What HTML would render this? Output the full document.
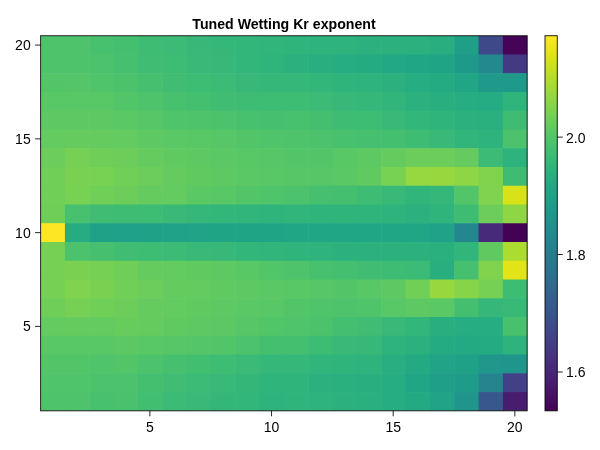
<!DOCTYPE html>
<html><head><meta charset="utf-8"><title>Tuned Wetting Kr exponent</title>
<style>
html,body{margin:0;padding:0;background:#fff;}
svg{display:block}
text{font-family:"Liberation Sans",Arial,Helvetica,sans-serif;font-size:14px;fill:#000}
.t{font-weight:bold}
</style></head><body>
<svg width="600" height="450" viewBox="0 0 600 450">
<rect width="600" height="450" fill="#fff"/>

<defs><clipPath id="ax"><rect x="40.60" y="35.70" width="486.60" height="375.10"/></clipPath></defs>
<g clip-path="url(#ax)"><g>
<rect x="40.60" y="35.70" width="24.93" height="19.36" fill="#4ec36b"/>
<rect x="64.93" y="35.70" width="24.93" height="19.36" fill="#4ec36b"/>
<rect x="89.26" y="35.70" width="24.93" height="19.36" fill="#48c16e"/>
<rect x="113.59" y="35.70" width="24.93" height="19.36" fill="#44bf70"/>
<rect x="137.92" y="35.70" width="24.93" height="19.36" fill="#3fbc73"/>
<rect x="162.25" y="35.70" width="24.93" height="19.36" fill="#3bbb75"/>
<rect x="186.58" y="35.70" width="24.93" height="19.36" fill="#37b878"/>
<rect x="210.91" y="35.70" width="24.93" height="19.36" fill="#35b779"/>
<rect x="235.24" y="35.70" width="24.93" height="19.36" fill="#32b67a"/>
<rect x="259.57" y="35.70" width="24.93" height="19.36" fill="#31b57b"/>
<rect x="283.90" y="35.70" width="24.93" height="19.36" fill="#2fb47c"/>
<rect x="308.23" y="35.70" width="24.93" height="19.36" fill="#2eb37c"/>
<rect x="332.56" y="35.70" width="24.93" height="19.36" fill="#2eb37c"/>
<rect x="356.89" y="35.70" width="24.93" height="19.36" fill="#2cb17e"/>
<rect x="381.22" y="35.70" width="24.93" height="19.36" fill="#2cb17e"/>
<rect x="405.55" y="35.70" width="24.93" height="19.36" fill="#2cb17e"/>
<rect x="429.88" y="35.70" width="24.93" height="19.36" fill="#29af7f"/>
<rect x="454.21" y="35.70" width="24.93" height="19.36" fill="#1f9f88"/>
<rect x="478.54" y="35.70" width="24.93" height="19.36" fill="#3e4989"/>
<rect x="502.87" y="35.70" width="24.93" height="19.36" fill="#450457"/>
<rect x="40.60" y="54.46" width="24.93" height="19.36" fill="#4ec36b"/>
<rect x="64.93" y="54.46" width="24.93" height="19.36" fill="#4ec36b"/>
<rect x="89.26" y="54.46" width="24.93" height="19.36" fill="#4cc26c"/>
<rect x="113.59" y="54.46" width="24.93" height="19.36" fill="#46c06f"/>
<rect x="137.92" y="54.46" width="24.93" height="19.36" fill="#40bd72"/>
<rect x="162.25" y="54.46" width="24.93" height="19.36" fill="#3dbc74"/>
<rect x="186.58" y="54.46" width="24.93" height="19.36" fill="#38b977"/>
<rect x="210.91" y="54.46" width="24.93" height="19.36" fill="#37b878"/>
<rect x="235.24" y="54.46" width="24.93" height="19.36" fill="#32b67a"/>
<rect x="259.57" y="54.46" width="24.93" height="19.36" fill="#2fb47c"/>
<rect x="283.90" y="54.46" width="24.93" height="19.36" fill="#2cb17e"/>
<rect x="308.23" y="54.46" width="24.93" height="19.36" fill="#29af7f"/>
<rect x="332.56" y="54.46" width="24.93" height="19.36" fill="#26ad81"/>
<rect x="356.89" y="54.46" width="24.93" height="19.36" fill="#25ab82"/>
<rect x="381.22" y="54.46" width="24.93" height="19.36" fill="#22a884"/>
<rect x="405.55" y="54.46" width="24.93" height="19.36" fill="#21a685"/>
<rect x="429.88" y="54.46" width="24.93" height="19.36" fill="#20a486"/>
<rect x="454.21" y="54.46" width="24.93" height="19.36" fill="#1f9a8a"/>
<rect x="478.54" y="54.46" width="24.93" height="19.36" fill="#23898e"/>
<rect x="502.87" y="54.46" width="24.93" height="19.36" fill="#443a83"/>
<rect x="40.60" y="73.21" width="24.93" height="19.36" fill="#52c569"/>
<rect x="64.93" y="73.21" width="24.93" height="19.36" fill="#54c568"/>
<rect x="89.26" y="73.21" width="24.93" height="19.36" fill="#50c46a"/>
<rect x="113.59" y="73.21" width="24.93" height="19.36" fill="#4cc26c"/>
<rect x="137.92" y="73.21" width="24.93" height="19.36" fill="#46c06f"/>
<rect x="162.25" y="73.21" width="24.93" height="19.36" fill="#40bd72"/>
<rect x="186.58" y="73.21" width="24.93" height="19.36" fill="#3dbc74"/>
<rect x="210.91" y="73.21" width="24.93" height="19.36" fill="#3bbb75"/>
<rect x="235.24" y="73.21" width="24.93" height="19.36" fill="#37b878"/>
<rect x="259.57" y="73.21" width="24.93" height="19.36" fill="#35b779"/>
<rect x="283.90" y="73.21" width="24.93" height="19.36" fill="#35b779"/>
<rect x="308.23" y="73.21" width="24.93" height="19.36" fill="#32b67a"/>
<rect x="332.56" y="73.21" width="24.93" height="19.36" fill="#2fb47c"/>
<rect x="356.89" y="73.21" width="24.93" height="19.36" fill="#2eb37c"/>
<rect x="381.22" y="73.21" width="24.93" height="19.36" fill="#2cb17e"/>
<rect x="405.55" y="73.21" width="24.93" height="19.36" fill="#26ad81"/>
<rect x="429.88" y="73.21" width="24.93" height="19.36" fill="#25ab82"/>
<rect x="454.21" y="73.21" width="24.93" height="19.36" fill="#21a685"/>
<rect x="478.54" y="73.21" width="24.93" height="19.36" fill="#1f9a8a"/>
<rect x="502.87" y="73.21" width="24.93" height="19.36" fill="#1f9a8a"/>
<rect x="40.60" y="91.97" width="24.93" height="19.36" fill="#58c765"/>
<rect x="64.93" y="91.97" width="24.93" height="19.36" fill="#58c765"/>
<rect x="89.26" y="91.97" width="24.93" height="19.36" fill="#58c765"/>
<rect x="113.59" y="91.97" width="24.93" height="19.36" fill="#52c569"/>
<rect x="137.92" y="91.97" width="24.93" height="19.36" fill="#4ec36b"/>
<rect x="162.25" y="91.97" width="24.93" height="19.36" fill="#48c16e"/>
<rect x="186.58" y="91.97" width="24.93" height="19.36" fill="#44bf70"/>
<rect x="210.91" y="91.97" width="24.93" height="19.36" fill="#40bd72"/>
<rect x="235.24" y="91.97" width="24.93" height="19.36" fill="#3fbc73"/>
<rect x="259.57" y="91.97" width="24.93" height="19.36" fill="#3dbc74"/>
<rect x="283.90" y="91.97" width="24.93" height="19.36" fill="#3dbc74"/>
<rect x="308.23" y="91.97" width="24.93" height="19.36" fill="#3bbb75"/>
<rect x="332.56" y="91.97" width="24.93" height="19.36" fill="#37b878"/>
<rect x="356.89" y="91.97" width="24.93" height="19.36" fill="#35b779"/>
<rect x="381.22" y="91.97" width="24.93" height="19.36" fill="#31b57b"/>
<rect x="405.55" y="91.97" width="24.93" height="19.36" fill="#2cb17e"/>
<rect x="429.88" y="91.97" width="24.93" height="19.36" fill="#29af7f"/>
<rect x="454.21" y="91.97" width="24.93" height="19.36" fill="#26ad81"/>
<rect x="478.54" y="91.97" width="24.93" height="19.36" fill="#25ac82"/>
<rect x="502.87" y="91.97" width="24.93" height="19.36" fill="#2fb47c"/>
<rect x="40.60" y="110.72" width="24.93" height="19.36" fill="#5ec962"/>
<rect x="64.93" y="110.72" width="24.93" height="19.36" fill="#5ec962"/>
<rect x="89.26" y="110.72" width="24.93" height="19.36" fill="#5ec962"/>
<rect x="113.59" y="110.72" width="24.93" height="19.36" fill="#5ac864"/>
<rect x="137.92" y="110.72" width="24.93" height="19.36" fill="#56c667"/>
<rect x="162.25" y="110.72" width="24.93" height="19.36" fill="#50c46a"/>
<rect x="186.58" y="110.72" width="24.93" height="19.36" fill="#4ec36b"/>
<rect x="210.91" y="110.72" width="24.93" height="19.36" fill="#4cc26c"/>
<rect x="235.24" y="110.72" width="24.93" height="19.36" fill="#48c16e"/>
<rect x="259.57" y="110.72" width="24.93" height="19.36" fill="#46c06f"/>
<rect x="283.90" y="110.72" width="24.93" height="19.36" fill="#48c16e"/>
<rect x="308.23" y="110.72" width="24.93" height="19.36" fill="#44bf70"/>
<rect x="332.56" y="110.72" width="24.93" height="19.36" fill="#3fbc73"/>
<rect x="356.89" y="110.72" width="24.93" height="19.36" fill="#3dbc74"/>
<rect x="381.22" y="110.72" width="24.93" height="19.36" fill="#38b977"/>
<rect x="405.55" y="110.72" width="24.93" height="19.36" fill="#32b67a"/>
<rect x="429.88" y="110.72" width="24.93" height="19.36" fill="#2fb47c"/>
<rect x="454.21" y="110.72" width="24.93" height="19.36" fill="#2cb17e"/>
<rect x="478.54" y="110.72" width="24.93" height="19.36" fill="#2ab07f"/>
<rect x="502.87" y="110.72" width="24.93" height="19.36" fill="#3fbc73"/>
<rect x="40.60" y="129.48" width="24.93" height="19.36" fill="#63cb5f"/>
<rect x="64.93" y="129.48" width="24.93" height="19.36" fill="#65cb5e"/>
<rect x="89.26" y="129.48" width="24.93" height="19.36" fill="#65cb5e"/>
<rect x="113.59" y="129.48" width="24.93" height="19.36" fill="#63cb5f"/>
<rect x="137.92" y="129.48" width="24.93" height="19.36" fill="#5ec962"/>
<rect x="162.25" y="129.48" width="24.93" height="19.36" fill="#5ac864"/>
<rect x="186.58" y="129.48" width="24.93" height="19.36" fill="#58c765"/>
<rect x="210.91" y="129.48" width="24.93" height="19.36" fill="#56c667"/>
<rect x="235.24" y="129.48" width="24.93" height="19.36" fill="#52c569"/>
<rect x="259.57" y="129.48" width="24.93" height="19.36" fill="#50c46a"/>
<rect x="283.90" y="129.48" width="24.93" height="19.36" fill="#4ec36b"/>
<rect x="308.23" y="129.48" width="24.93" height="19.36" fill="#4cc26c"/>
<rect x="332.56" y="129.48" width="24.93" height="19.36" fill="#48c16e"/>
<rect x="356.89" y="129.48" width="24.93" height="19.36" fill="#46c06f"/>
<rect x="381.22" y="129.48" width="24.93" height="19.36" fill="#44bf70"/>
<rect x="405.55" y="129.48" width="24.93" height="19.36" fill="#3fbc73"/>
<rect x="429.88" y="129.48" width="24.93" height="19.36" fill="#38b977"/>
<rect x="454.21" y="129.48" width="24.93" height="19.36" fill="#31b57b"/>
<rect x="478.54" y="129.48" width="24.93" height="19.36" fill="#2eb37c"/>
<rect x="502.87" y="129.48" width="24.93" height="19.36" fill="#4cc26c"/>
<rect x="40.60" y="148.23" width="24.93" height="19.36" fill="#6ccd5a"/>
<rect x="64.93" y="148.23" width="24.93" height="19.36" fill="#75d054"/>
<rect x="89.26" y="148.23" width="24.93" height="19.36" fill="#6ece58"/>
<rect x="113.59" y="148.23" width="24.93" height="19.36" fill="#6ccd5a"/>
<rect x="137.92" y="148.23" width="24.93" height="19.36" fill="#65cb5e"/>
<rect x="162.25" y="148.23" width="24.93" height="19.36" fill="#60ca60"/>
<rect x="186.58" y="148.23" width="24.93" height="19.36" fill="#5ec962"/>
<rect x="210.91" y="148.23" width="24.93" height="19.36" fill="#5ac864"/>
<rect x="235.24" y="148.23" width="24.93" height="19.36" fill="#58c765"/>
<rect x="259.57" y="148.23" width="24.93" height="19.36" fill="#56c667"/>
<rect x="283.90" y="148.23" width="24.93" height="19.36" fill="#52c569"/>
<rect x="308.23" y="148.23" width="24.93" height="19.36" fill="#52c569"/>
<rect x="332.56" y="148.23" width="24.93" height="19.36" fill="#58c765"/>
<rect x="356.89" y="148.23" width="24.93" height="19.36" fill="#5ec962"/>
<rect x="381.22" y="148.23" width="24.93" height="19.36" fill="#65cb5e"/>
<rect x="405.55" y="148.23" width="24.93" height="19.36" fill="#6ccd5a"/>
<rect x="429.88" y="148.23" width="24.93" height="19.36" fill="#6ccd5a"/>
<rect x="454.21" y="148.23" width="24.93" height="19.36" fill="#65cb5e"/>
<rect x="478.54" y="148.23" width="24.93" height="19.36" fill="#3bbb75"/>
<rect x="502.87" y="148.23" width="24.93" height="19.36" fill="#2eb37c"/>
<rect x="40.60" y="166.99" width="24.93" height="19.36" fill="#70cf57"/>
<rect x="64.93" y="166.99" width="24.93" height="19.36" fill="#7ad151"/>
<rect x="89.26" y="166.99" width="24.93" height="19.36" fill="#77d153"/>
<rect x="113.59" y="166.99" width="24.93" height="19.36" fill="#70cf57"/>
<rect x="137.92" y="166.99" width="24.93" height="19.36" fill="#6ccd5a"/>
<rect x="162.25" y="166.99" width="24.93" height="19.36" fill="#65cb5e"/>
<rect x="186.58" y="166.99" width="24.93" height="19.36" fill="#60ca60"/>
<rect x="210.91" y="166.99" width="24.93" height="19.36" fill="#5ec962"/>
<rect x="235.24" y="166.99" width="24.93" height="19.36" fill="#5ac864"/>
<rect x="259.57" y="166.99" width="24.93" height="19.36" fill="#58c765"/>
<rect x="283.90" y="166.99" width="24.93" height="19.36" fill="#56c667"/>
<rect x="308.23" y="166.99" width="24.93" height="19.36" fill="#56c667"/>
<rect x="332.56" y="166.99" width="24.93" height="19.36" fill="#5ac864"/>
<rect x="356.89" y="166.99" width="24.93" height="19.36" fill="#60ca60"/>
<rect x="381.22" y="166.99" width="24.93" height="19.36" fill="#77d153"/>
<rect x="405.55" y="166.99" width="24.93" height="19.36" fill="#95d840"/>
<rect x="429.88" y="166.99" width="24.93" height="19.36" fill="#98d83e"/>
<rect x="454.21" y="166.99" width="24.93" height="19.36" fill="#8ed645"/>
<rect x="478.54" y="166.99" width="24.93" height="19.36" fill="#81d34d"/>
<rect x="502.87" y="166.99" width="24.93" height="19.36" fill="#3fbc73"/>
<rect x="40.60" y="185.74" width="24.93" height="19.36" fill="#70cf57"/>
<rect x="64.93" y="185.74" width="24.93" height="19.36" fill="#77d153"/>
<rect x="89.26" y="185.74" width="24.93" height="19.36" fill="#70cf57"/>
<rect x="113.59" y="185.74" width="24.93" height="19.36" fill="#6ccd5a"/>
<rect x="137.92" y="185.74" width="24.93" height="19.36" fill="#65cb5e"/>
<rect x="162.25" y="185.74" width="24.93" height="19.36" fill="#63cb5f"/>
<rect x="186.58" y="185.74" width="24.93" height="19.36" fill="#5ac864"/>
<rect x="210.91" y="185.74" width="24.93" height="19.36" fill="#58c765"/>
<rect x="235.24" y="185.74" width="24.93" height="19.36" fill="#52c569"/>
<rect x="259.57" y="185.74" width="24.93" height="19.36" fill="#50c46a"/>
<rect x="283.90" y="185.74" width="24.93" height="19.36" fill="#4cc26c"/>
<rect x="308.23" y="185.74" width="24.93" height="19.36" fill="#46c06f"/>
<rect x="332.56" y="185.74" width="24.93" height="19.36" fill="#44bf70"/>
<rect x="356.89" y="185.74" width="24.93" height="19.36" fill="#3fbc73"/>
<rect x="381.22" y="185.74" width="24.93" height="19.36" fill="#38b977"/>
<rect x="405.55" y="185.74" width="24.93" height="19.36" fill="#31b57b"/>
<rect x="429.88" y="185.74" width="24.93" height="19.36" fill="#35b779"/>
<rect x="454.21" y="185.74" width="24.93" height="19.36" fill="#52c569"/>
<rect x="478.54" y="185.74" width="24.93" height="19.36" fill="#7fd34e"/>
<rect x="502.87" y="185.74" width="24.93" height="19.36" fill="#d8e219"/>
<rect x="40.60" y="204.50" width="24.93" height="19.36" fill="#6ece58"/>
<rect x="64.93" y="204.50" width="24.93" height="19.36" fill="#48c16e"/>
<rect x="89.26" y="204.50" width="24.93" height="19.36" fill="#40bd72"/>
<rect x="113.59" y="204.50" width="24.93" height="19.36" fill="#3fbc73"/>
<rect x="137.92" y="204.50" width="24.93" height="19.36" fill="#3dbc74"/>
<rect x="162.25" y="204.50" width="24.93" height="19.36" fill="#38b977"/>
<rect x="186.58" y="204.50" width="24.93" height="19.36" fill="#35b779"/>
<rect x="210.91" y="204.50" width="24.93" height="19.36" fill="#32b67a"/>
<rect x="235.24" y="204.50" width="24.93" height="19.36" fill="#31b57b"/>
<rect x="259.57" y="204.50" width="24.93" height="19.36" fill="#2fb47c"/>
<rect x="283.90" y="204.50" width="24.93" height="19.36" fill="#31b57b"/>
<rect x="308.23" y="204.50" width="24.93" height="19.36" fill="#2fb47c"/>
<rect x="332.56" y="204.50" width="24.93" height="19.36" fill="#2fb47c"/>
<rect x="356.89" y="204.50" width="24.93" height="19.36" fill="#2fb47c"/>
<rect x="381.22" y="204.50" width="24.93" height="19.36" fill="#2eb37c"/>
<rect x="405.55" y="204.50" width="24.93" height="19.36" fill="#2cb17e"/>
<rect x="429.88" y="204.50" width="24.93" height="19.36" fill="#2fb47c"/>
<rect x="454.21" y="204.50" width="24.93" height="19.36" fill="#3fbc73"/>
<rect x="478.54" y="204.50" width="24.93" height="19.36" fill="#6ccd5a"/>
<rect x="502.87" y="204.50" width="24.93" height="19.36" fill="#8ed645"/>
<rect x="40.60" y="223.25" width="24.93" height="19.36" fill="#fde725"/>
<rect x="64.93" y="223.25" width="24.93" height="19.36" fill="#25ac82"/>
<rect x="89.26" y="223.25" width="24.93" height="19.36" fill="#1fa188"/>
<rect x="113.59" y="223.25" width="24.93" height="19.36" fill="#1fa088"/>
<rect x="137.92" y="223.25" width="24.93" height="19.36" fill="#1fa188"/>
<rect x="162.25" y="223.25" width="24.93" height="19.36" fill="#1fa287"/>
<rect x="186.58" y="223.25" width="24.93" height="19.36" fill="#20a386"/>
<rect x="210.91" y="223.25" width="24.93" height="19.36" fill="#20a486"/>
<rect x="235.24" y="223.25" width="24.93" height="19.36" fill="#20a486"/>
<rect x="259.57" y="223.25" width="24.93" height="19.36" fill="#20a486"/>
<rect x="283.90" y="223.25" width="24.93" height="19.36" fill="#21a685"/>
<rect x="308.23" y="223.25" width="24.93" height="19.36" fill="#21a685"/>
<rect x="332.56" y="223.25" width="24.93" height="19.36" fill="#21a685"/>
<rect x="356.89" y="223.25" width="24.93" height="19.36" fill="#21a685"/>
<rect x="381.22" y="223.25" width="24.93" height="19.36" fill="#21a685"/>
<rect x="405.55" y="223.25" width="24.93" height="19.36" fill="#21a685"/>
<rect x="429.88" y="223.25" width="24.93" height="19.36" fill="#1fa287"/>
<rect x="454.21" y="223.25" width="24.93" height="19.36" fill="#24868e"/>
<rect x="478.54" y="223.25" width="24.93" height="19.36" fill="#472a7a"/>
<rect x="502.87" y="223.25" width="24.93" height="19.36" fill="#440256"/>
<rect x="40.60" y="242.01" width="24.93" height="19.36" fill="#75d054"/>
<rect x="64.93" y="242.01" width="24.93" height="19.36" fill="#4cc26c"/>
<rect x="89.26" y="242.01" width="24.93" height="19.36" fill="#46c06f"/>
<rect x="113.59" y="242.01" width="24.93" height="19.36" fill="#40bd72"/>
<rect x="137.92" y="242.01" width="24.93" height="19.36" fill="#3dbc74"/>
<rect x="162.25" y="242.01" width="24.93" height="19.36" fill="#3bbb75"/>
<rect x="186.58" y="242.01" width="24.93" height="19.36" fill="#38b977"/>
<rect x="210.91" y="242.01" width="24.93" height="19.36" fill="#37b878"/>
<rect x="235.24" y="242.01" width="24.93" height="19.36" fill="#32b67a"/>
<rect x="259.57" y="242.01" width="24.93" height="19.36" fill="#31b57b"/>
<rect x="283.90" y="242.01" width="24.93" height="19.36" fill="#2fb47c"/>
<rect x="308.23" y="242.01" width="24.93" height="19.36" fill="#2eb37c"/>
<rect x="332.56" y="242.01" width="24.93" height="19.36" fill="#2cb17e"/>
<rect x="356.89" y="242.01" width="24.93" height="19.36" fill="#2cb17e"/>
<rect x="381.22" y="242.01" width="24.93" height="19.36" fill="#2cb17e"/>
<rect x="405.55" y="242.01" width="24.93" height="19.36" fill="#2cb17e"/>
<rect x="429.88" y="242.01" width="24.93" height="19.36" fill="#2ab07f"/>
<rect x="454.21" y="242.01" width="24.93" height="19.36" fill="#31b57b"/>
<rect x="478.54" y="242.01" width="24.93" height="19.36" fill="#60ca60"/>
<rect x="502.87" y="242.01" width="24.93" height="19.36" fill="#addc30"/>
<rect x="40.60" y="260.76" width="24.93" height="19.36" fill="#75d054"/>
<rect x="64.93" y="260.76" width="24.93" height="19.36" fill="#7ad151"/>
<rect x="89.26" y="260.76" width="24.93" height="19.36" fill="#75d054"/>
<rect x="113.59" y="260.76" width="24.93" height="19.36" fill="#6ece58"/>
<rect x="137.92" y="260.76" width="24.93" height="19.36" fill="#65cb5e"/>
<rect x="162.25" y="260.76" width="24.93" height="19.36" fill="#63cb5f"/>
<rect x="186.58" y="260.76" width="24.93" height="19.36" fill="#60ca60"/>
<rect x="210.91" y="260.76" width="24.93" height="19.36" fill="#5ec962"/>
<rect x="235.24" y="260.76" width="24.93" height="19.36" fill="#58c765"/>
<rect x="259.57" y="260.76" width="24.93" height="19.36" fill="#52c569"/>
<rect x="283.90" y="260.76" width="24.93" height="19.36" fill="#4ec36b"/>
<rect x="308.23" y="260.76" width="24.93" height="19.36" fill="#48c16e"/>
<rect x="332.56" y="260.76" width="24.93" height="19.36" fill="#44bf70"/>
<rect x="356.89" y="260.76" width="24.93" height="19.36" fill="#40bd72"/>
<rect x="381.22" y="260.76" width="24.93" height="19.36" fill="#3fbc73"/>
<rect x="405.55" y="260.76" width="24.93" height="19.36" fill="#3bbb75"/>
<rect x="429.88" y="260.76" width="24.93" height="19.36" fill="#29af7f"/>
<rect x="454.21" y="260.76" width="24.93" height="19.36" fill="#46c06f"/>
<rect x="478.54" y="260.76" width="24.93" height="19.36" fill="#81d34d"/>
<rect x="502.87" y="260.76" width="24.93" height="19.36" fill="#e2e418"/>
<rect x="40.60" y="279.52" width="24.93" height="19.36" fill="#75d054"/>
<rect x="64.93" y="279.52" width="24.93" height="19.36" fill="#7fd34e"/>
<rect x="89.26" y="279.52" width="24.93" height="19.36" fill="#7ad151"/>
<rect x="113.59" y="279.52" width="24.93" height="19.36" fill="#70cf57"/>
<rect x="137.92" y="279.52" width="24.93" height="19.36" fill="#6ccd5a"/>
<rect x="162.25" y="279.52" width="24.93" height="19.36" fill="#65cb5e"/>
<rect x="186.58" y="279.52" width="24.93" height="19.36" fill="#63cb5f"/>
<rect x="210.91" y="279.52" width="24.93" height="19.36" fill="#60ca60"/>
<rect x="235.24" y="279.52" width="24.93" height="19.36" fill="#5ec962"/>
<rect x="259.57" y="279.52" width="24.93" height="19.36" fill="#5ac864"/>
<rect x="283.90" y="279.52" width="24.93" height="19.36" fill="#58c765"/>
<rect x="308.23" y="279.52" width="24.93" height="19.36" fill="#56c667"/>
<rect x="332.56" y="279.52" width="24.93" height="19.36" fill="#52c569"/>
<rect x="356.89" y="279.52" width="24.93" height="19.36" fill="#58c765"/>
<rect x="381.22" y="279.52" width="24.93" height="19.36" fill="#5ec962"/>
<rect x="405.55" y="279.52" width="24.93" height="19.36" fill="#70cf57"/>
<rect x="429.88" y="279.52" width="24.93" height="19.36" fill="#98d83e"/>
<rect x="454.21" y="279.52" width="24.93" height="19.36" fill="#86d549"/>
<rect x="478.54" y="279.52" width="24.93" height="19.36" fill="#75d054"/>
<rect x="502.87" y="279.52" width="24.93" height="19.36" fill="#3dbc74"/>
<rect x="40.60" y="298.27" width="24.93" height="19.36" fill="#6ece58"/>
<rect x="64.93" y="298.27" width="24.93" height="19.36" fill="#75d054"/>
<rect x="89.26" y="298.27" width="24.93" height="19.36" fill="#70cf57"/>
<rect x="113.59" y="298.27" width="24.93" height="19.36" fill="#6ccd5a"/>
<rect x="137.92" y="298.27" width="24.93" height="19.36" fill="#65cb5e"/>
<rect x="162.25" y="298.27" width="24.93" height="19.36" fill="#63cb5f"/>
<rect x="186.58" y="298.27" width="24.93" height="19.36" fill="#60ca60"/>
<rect x="210.91" y="298.27" width="24.93" height="19.36" fill="#5ec962"/>
<rect x="235.24" y="298.27" width="24.93" height="19.36" fill="#5ac864"/>
<rect x="259.57" y="298.27" width="24.93" height="19.36" fill="#58c765"/>
<rect x="283.90" y="298.27" width="24.93" height="19.36" fill="#52c569"/>
<rect x="308.23" y="298.27" width="24.93" height="19.36" fill="#50c46a"/>
<rect x="332.56" y="298.27" width="24.93" height="19.36" fill="#4ec36b"/>
<rect x="356.89" y="298.27" width="24.93" height="19.36" fill="#50c46a"/>
<rect x="381.22" y="298.27" width="24.93" height="19.36" fill="#58c765"/>
<rect x="405.55" y="298.27" width="24.93" height="19.36" fill="#5ec962"/>
<rect x="429.88" y="298.27" width="24.93" height="19.36" fill="#5ac864"/>
<rect x="454.21" y="298.27" width="24.93" height="19.36" fill="#44bf70"/>
<rect x="478.54" y="298.27" width="24.93" height="19.36" fill="#35b779"/>
<rect x="502.87" y="298.27" width="24.93" height="19.36" fill="#38b977"/>
<rect x="40.60" y="317.03" width="24.93" height="19.36" fill="#63cb5f"/>
<rect x="64.93" y="317.03" width="24.93" height="19.36" fill="#65cb5e"/>
<rect x="89.26" y="317.03" width="24.93" height="19.36" fill="#63cb5f"/>
<rect x="113.59" y="317.03" width="24.93" height="19.36" fill="#67cc5c"/>
<rect x="137.92" y="317.03" width="24.93" height="19.36" fill="#65cb5e"/>
<rect x="162.25" y="317.03" width="24.93" height="19.36" fill="#60ca60"/>
<rect x="186.58" y="317.03" width="24.93" height="19.36" fill="#5ec962"/>
<rect x="210.91" y="317.03" width="24.93" height="19.36" fill="#5cc863"/>
<rect x="235.24" y="317.03" width="24.93" height="19.36" fill="#56c667"/>
<rect x="259.57" y="317.03" width="24.93" height="19.36" fill="#52c569"/>
<rect x="283.90" y="317.03" width="24.93" height="19.36" fill="#50c46a"/>
<rect x="308.23" y="317.03" width="24.93" height="19.36" fill="#4cc26c"/>
<rect x="332.56" y="317.03" width="24.93" height="19.36" fill="#44bf70"/>
<rect x="356.89" y="317.03" width="24.93" height="19.36" fill="#40bd72"/>
<rect x="381.22" y="317.03" width="24.93" height="19.36" fill="#38b977"/>
<rect x="405.55" y="317.03" width="24.93" height="19.36" fill="#32b67a"/>
<rect x="429.88" y="317.03" width="24.93" height="19.36" fill="#29af7f"/>
<rect x="454.21" y="317.03" width="24.93" height="19.36" fill="#26ad81"/>
<rect x="478.54" y="317.03" width="24.93" height="19.36" fill="#26ad81"/>
<rect x="502.87" y="317.03" width="24.93" height="19.36" fill="#48c16e"/>
<rect x="40.60" y="335.78" width="24.93" height="19.36" fill="#58c765"/>
<rect x="64.93" y="335.78" width="24.93" height="19.36" fill="#58c765"/>
<rect x="89.26" y="335.78" width="24.93" height="19.36" fill="#58c765"/>
<rect x="113.59" y="335.78" width="24.93" height="19.36" fill="#5cc863"/>
<rect x="137.92" y="335.78" width="24.93" height="19.36" fill="#58c765"/>
<rect x="162.25" y="335.78" width="24.93" height="19.36" fill="#56c667"/>
<rect x="186.58" y="335.78" width="24.93" height="19.36" fill="#54c568"/>
<rect x="210.91" y="335.78" width="24.93" height="19.36" fill="#52c569"/>
<rect x="235.24" y="335.78" width="24.93" height="19.36" fill="#4cc26c"/>
<rect x="259.57" y="335.78" width="24.93" height="19.36" fill="#44bf70"/>
<rect x="283.90" y="335.78" width="24.93" height="19.36" fill="#44bf70"/>
<rect x="308.23" y="335.78" width="24.93" height="19.36" fill="#3dbc74"/>
<rect x="332.56" y="335.78" width="24.93" height="19.36" fill="#38b977"/>
<rect x="356.89" y="335.78" width="24.93" height="19.36" fill="#37b878"/>
<rect x="381.22" y="335.78" width="24.93" height="19.36" fill="#2eb37c"/>
<rect x="405.55" y="335.78" width="24.93" height="19.36" fill="#2cb17e"/>
<rect x="429.88" y="335.78" width="24.93" height="19.36" fill="#25ab82"/>
<rect x="454.21" y="335.78" width="24.93" height="19.36" fill="#23a983"/>
<rect x="478.54" y="335.78" width="24.93" height="19.36" fill="#25ab82"/>
<rect x="502.87" y="335.78" width="24.93" height="19.36" fill="#2eb37c"/>
<rect x="40.60" y="354.54" width="24.93" height="19.36" fill="#52c569"/>
<rect x="64.93" y="354.54" width="24.93" height="19.36" fill="#52c569"/>
<rect x="89.26" y="354.54" width="24.93" height="19.36" fill="#50c46a"/>
<rect x="113.59" y="354.54" width="24.93" height="19.36" fill="#52c569"/>
<rect x="137.92" y="354.54" width="24.93" height="19.36" fill="#4cc26c"/>
<rect x="162.25" y="354.54" width="24.93" height="19.36" fill="#46c06f"/>
<rect x="186.58" y="354.54" width="24.93" height="19.36" fill="#42be71"/>
<rect x="210.91" y="354.54" width="24.93" height="19.36" fill="#3dbc74"/>
<rect x="235.24" y="354.54" width="24.93" height="19.36" fill="#3aba76"/>
<rect x="259.57" y="354.54" width="24.93" height="19.36" fill="#35b779"/>
<rect x="283.90" y="354.54" width="24.93" height="19.36" fill="#35b779"/>
<rect x="308.23" y="354.54" width="24.93" height="19.36" fill="#31b57b"/>
<rect x="332.56" y="354.54" width="24.93" height="19.36" fill="#2fb47c"/>
<rect x="356.89" y="354.54" width="24.93" height="19.36" fill="#2eb37c"/>
<rect x="381.22" y="354.54" width="24.93" height="19.36" fill="#28ae80"/>
<rect x="405.55" y="354.54" width="24.93" height="19.36" fill="#24aa83"/>
<rect x="429.88" y="354.54" width="24.93" height="19.36" fill="#20a386"/>
<rect x="454.21" y="354.54" width="24.93" height="19.36" fill="#1fa188"/>
<rect x="478.54" y="354.54" width="24.93" height="19.36" fill="#1f978b"/>
<rect x="502.87" y="354.54" width="24.93" height="19.36" fill="#1f958b"/>
<rect x="40.60" y="373.29" width="24.93" height="19.36" fill="#50c46a"/>
<rect x="64.93" y="373.29" width="24.93" height="19.36" fill="#50c46a"/>
<rect x="89.26" y="373.29" width="24.93" height="19.36" fill="#4cc26c"/>
<rect x="113.59" y="373.29" width="24.93" height="19.36" fill="#4cc26c"/>
<rect x="137.92" y="373.29" width="24.93" height="19.36" fill="#44bf70"/>
<rect x="162.25" y="373.29" width="24.93" height="19.36" fill="#40bd72"/>
<rect x="186.58" y="373.29" width="24.93" height="19.36" fill="#3bbb75"/>
<rect x="210.91" y="373.29" width="24.93" height="19.36" fill="#38b977"/>
<rect x="235.24" y="373.29" width="24.93" height="19.36" fill="#34b679"/>
<rect x="259.57" y="373.29" width="24.93" height="19.36" fill="#2fb47c"/>
<rect x="283.90" y="373.29" width="24.93" height="19.36" fill="#2fb47c"/>
<rect x="308.23" y="373.29" width="24.93" height="19.36" fill="#2cb17e"/>
<rect x="332.56" y="373.29" width="24.93" height="19.36" fill="#2ab07f"/>
<rect x="356.89" y="373.29" width="24.93" height="19.36" fill="#29af7f"/>
<rect x="381.22" y="373.29" width="24.93" height="19.36" fill="#26ad81"/>
<rect x="405.55" y="373.29" width="24.93" height="19.36" fill="#21a685"/>
<rect x="429.88" y="373.29" width="24.93" height="19.36" fill="#1f9f88"/>
<rect x="454.21" y="373.29" width="24.93" height="19.36" fill="#1e9c89"/>
<rect x="478.54" y="373.29" width="24.93" height="19.36" fill="#25848e"/>
<rect x="502.87" y="373.29" width="24.93" height="19.36" fill="#424086"/>
<rect x="40.60" y="392.05" width="24.93" height="19.36" fill="#4ec36b"/>
<rect x="64.93" y="392.05" width="24.93" height="19.36" fill="#4ec36b"/>
<rect x="89.26" y="392.05" width="24.93" height="19.36" fill="#48c16e"/>
<rect x="113.59" y="392.05" width="24.93" height="19.36" fill="#4ac16d"/>
<rect x="137.92" y="392.05" width="24.93" height="19.36" fill="#42be71"/>
<rect x="162.25" y="392.05" width="24.93" height="19.36" fill="#3bbb75"/>
<rect x="186.58" y="392.05" width="24.93" height="19.36" fill="#38b977"/>
<rect x="210.91" y="392.05" width="24.93" height="19.36" fill="#34b679"/>
<rect x="235.24" y="392.05" width="24.93" height="19.36" fill="#32b67a"/>
<rect x="259.57" y="392.05" width="24.93" height="19.36" fill="#2eb37c"/>
<rect x="283.90" y="392.05" width="24.93" height="19.36" fill="#2fb47c"/>
<rect x="308.23" y="392.05" width="24.93" height="19.36" fill="#2eb37c"/>
<rect x="332.56" y="392.05" width="24.93" height="19.36" fill="#2cb17e"/>
<rect x="356.89" y="392.05" width="24.93" height="19.36" fill="#2ab07f"/>
<rect x="381.22" y="392.05" width="24.93" height="19.36" fill="#26ad81"/>
<rect x="405.55" y="392.05" width="24.93" height="19.36" fill="#24aa83"/>
<rect x="429.88" y="392.05" width="24.93" height="19.36" fill="#20a386"/>
<rect x="454.21" y="392.05" width="24.93" height="19.36" fill="#1f958b"/>
<rect x="478.54" y="392.05" width="24.93" height="19.36" fill="#38588c"/>
<rect x="502.87" y="392.05" width="24.93" height="19.36" fill="#481d6f"/>
</g></g>
<defs><linearGradient id="cb" x1="0" y1="1" x2="0" y2="0">
<stop offset="0.0000" stop-color="#440154"/>
<stop offset="0.0312" stop-color="#470d60"/>
<stop offset="0.0625" stop-color="#48186a"/>
<stop offset="0.0938" stop-color="#482374"/>
<stop offset="0.1250" stop-color="#472d7b"/>
<stop offset="0.1562" stop-color="#453781"/>
<stop offset="0.1875" stop-color="#424086"/>
<stop offset="0.2188" stop-color="#3e4989"/>
<stop offset="0.2500" stop-color="#3b528b"/>
<stop offset="0.2812" stop-color="#375b8d"/>
<stop offset="0.3125" stop-color="#33638d"/>
<stop offset="0.3438" stop-color="#2f6b8e"/>
<stop offset="0.3750" stop-color="#2c728e"/>
<stop offset="0.4062" stop-color="#297a8e"/>
<stop offset="0.4375" stop-color="#26828e"/>
<stop offset="0.4688" stop-color="#23898e"/>
<stop offset="0.5000" stop-color="#21918c"/>
<stop offset="0.5312" stop-color="#1f988b"/>
<stop offset="0.5625" stop-color="#1fa088"/>
<stop offset="0.5938" stop-color="#22a785"/>
<stop offset="0.6250" stop-color="#28ae80"/>
<stop offset="0.6562" stop-color="#32b67a"/>
<stop offset="0.6875" stop-color="#3fbc73"/>
<stop offset="0.7188" stop-color="#4ec36b"/>
<stop offset="0.7500" stop-color="#5ec962"/>
<stop offset="0.7812" stop-color="#70cf57"/>
<stop offset="0.8125" stop-color="#84d44b"/>
<stop offset="0.8438" stop-color="#98d83e"/>
<stop offset="0.8750" stop-color="#addc30"/>
<stop offset="0.9062" stop-color="#c2df23"/>
<stop offset="0.9375" stop-color="#d8e219"/>
<stop offset="0.9688" stop-color="#ece51b"/>
<stop offset="1.0000" stop-color="#fde725"/>
</linearGradient></defs>
<rect x="545.0" y="35.7" width="12.3" height="375.1" fill="url(#cb)"/>
<rect x="545.0" y="35.7" width="12.3" height="375.1" stroke="#000" stroke-width="1" stroke-opacity="0.85" fill="none"/>
<rect x="40.6" y="35.7" width="486.6" height="375.1" stroke="#000" stroke-width="1" stroke-opacity="0.85" fill="none"/>
<line x1="149.89" y1="410.8" x2="149.89" y2="416.3" stroke="#000" stroke-width="1" stroke-opacity="0.85" fill="none"/>
<text x="149.89" y="432.4" text-anchor="middle">5</text>
<line x1="35.1" y1="326.40" x2="40.6" y2="326.40" stroke="#000" stroke-width="1" stroke-opacity="0.85" fill="none"/>
<text x="30.7" y="331.40" text-anchor="end">5</text>
<line x1="271.54" y1="410.8" x2="271.54" y2="416.3" stroke="#000" stroke-width="1" stroke-opacity="0.85" fill="none"/>
<text x="271.54" y="432.4" text-anchor="middle">10</text>
<line x1="35.1" y1="232.63" x2="40.6" y2="232.63" stroke="#000" stroke-width="1" stroke-opacity="0.85" fill="none"/>
<text x="30.7" y="237.63" text-anchor="end">10</text>
<line x1="393.19" y1="410.8" x2="393.19" y2="416.3" stroke="#000" stroke-width="1" stroke-opacity="0.85" fill="none"/>
<text x="393.19" y="432.4" text-anchor="middle">15</text>
<line x1="35.1" y1="138.85" x2="40.6" y2="138.85" stroke="#000" stroke-width="1" stroke-opacity="0.85" fill="none"/>
<text x="30.7" y="143.85" text-anchor="end">15</text>
<line x1="514.84" y1="410.8" x2="514.84" y2="416.3" stroke="#000" stroke-width="1" stroke-opacity="0.85" fill="none"/>
<text x="514.84" y="432.4" text-anchor="middle">20</text>
<line x1="35.1" y1="45.08" x2="40.6" y2="45.08" stroke="#000" stroke-width="1" stroke-opacity="0.85" fill="none"/>
<text x="30.7" y="50.08" text-anchor="end">20</text>
<line x1="557.3" y1="137.10" x2="562.8" y2="137.10" stroke="#000" stroke-width="1" stroke-opacity="0.85" fill="none"/>
<text x="566" y="142.50">2.0</text>
<line x1="557.3" y1="254.50" x2="562.8" y2="254.50" stroke="#000" stroke-width="1" stroke-opacity="0.85" fill="none"/>
<text x="566" y="259.90">1.8</text>
<line x1="557.3" y1="372.00" x2="562.8" y2="372.00" stroke="#000" stroke-width="1" stroke-opacity="0.85" fill="none"/>
<text x="566" y="377.40">1.6</text>
<text class="t" x="284" y="28.8" text-anchor="middle" style="font-size:14.15px">Tuned Wetting Kr exponent</text>
</svg></body></html>
